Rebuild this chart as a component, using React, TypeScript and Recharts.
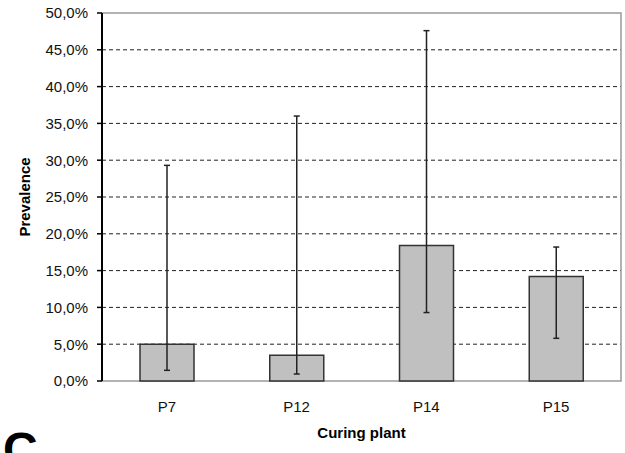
import {
  BarChart,
  Bar,
  XAxis,
  YAxis,
  CartesianGrid,
  ReferenceArea,
  ErrorBar,
} from 'recharts';

const plants = ['P7', 'P12', 'P14', 'P15'];
const prevalence = [0.05, 0.035, 0.184, 0.142];
const lowerBound = [0.0145, 0.0095, 0.093, 0.058];
const upperBound = [0.293, 0.36, 0.476, 0.182];
const yTicks = [0, 0.05, 0.1, 0.15, 0.2, 0.25, 0.3, 0.35, 0.4, 0.45, 0.5];
const edgeTicks = [0, 1, 2, 3, 4];

const data = plants.map((name, i) => ({
  name,
  value: prevalence[i],
  err: [prevalence[i] - lowerBound[i], upperBound[i] - prevalence[i]],
}));

const pct = (v: number) => (v * 100).toFixed(1).replace('.', ',') + '%';

const YTitle = ({ viewBox }: any) => (
  <text
    x={0}
    y={0}
    transform={`translate(${viewBox.x + 30}, ${viewBox.y + viewBox.height / 2}) rotate(-90)`}
    textAnchor='middle'
    fontSize={15}
    fontWeight='bold'
    fill='#000'
  >
    Prevalence
  </text>
);

const XTitle = ({ viewBox }: any) => (
  <text
    x={viewBox.x + viewBox.width / 2}
    y={viewBox.y + 57}
    textAnchor='middle'
    fontSize={15}
    fontWeight='bold'
    fill='#000'
  >
    Curing plant
  </text>
);

export default function App() {
  return (
    <div
      style={{
        position: 'absolute',
        left: 0,
        top: 0,
        width: 625,
        height: 453,
        overflow: 'hidden',
        background: '#fff',
        fontFamily: '"Liberation Sans", Arial, sans-serif',
      }}
    >
      <BarChart
        width={625}
        height={453}
        data={data}
        margin={{ top: 13, right: 4, bottom: 12, left: 0 }}
      >
        <CartesianGrid
          vertical={false}
          horizontalValues={yTicks.slice(1, -1)}
          stroke='#222'
          strokeDasharray='4 3'
        />
        <ReferenceArea
          y1={0}
          y2={0.5}
          stroke='#999'
          strokeWidth={1.5}
          fill='none'
          fillOpacity={0}
        />
        <XAxis
          xAxisId={0}
          type='number'
          domain={[0, 4]}
          ticks={edgeTicks}
          allowDataOverflow
          tick={false}
          height={0}
          tickSize={5}
          axisLine={{ stroke: '#333', strokeWidth: 1.5 }}
          tickLine={{ stroke: '#333', strokeWidth: 1.5 }}
        />
        <XAxis
          xAxisId='cat'
          dataKey='name'
          height={60}
          axisLine={false}
          tickLine={false}
          tickSize={5}
          tickMargin={15}
          tick={{ fontSize: 15, fill: '#111' }}
          label={{ content: XTitle }}
        />
        <YAxis
          width={102}
          domain={[0, 0.5]}
          ticks={yTicks}
          tickFormatter={pct}
          tickSize={5}
          tickMargin={9}
          tick={{ fontSize: 15, fill: '#111' }}
          axisLine={{ stroke: '#000', strokeWidth: 2 }}
          tickLine={{ stroke: '#000', strokeWidth: 1.5 }}
          label={{ content: YTitle }}
        />
        <Bar
          xAxisId='cat'
          dataKey='value'
          barSize={54}
          fill='#c0c0c0'
          stroke='#333'
          strokeWidth={1.5}
          isAnimationActive={false}
        >
          <ErrorBar
            dataKey='err'
            width={3}
            stroke='#222'
            strokeWidth={1.5}
            isAnimationActive={false}
          />
        </Bar>
      </BarChart>
      <div
        style={{
          position: 'absolute',
          left: 3,
          top: 426,
          fontSize: 48,
          lineHeight: 1,
          fontWeight: 'bold',
          color: '#000',
        }}
      >
        C
      </div>
    </div>
  );
}
